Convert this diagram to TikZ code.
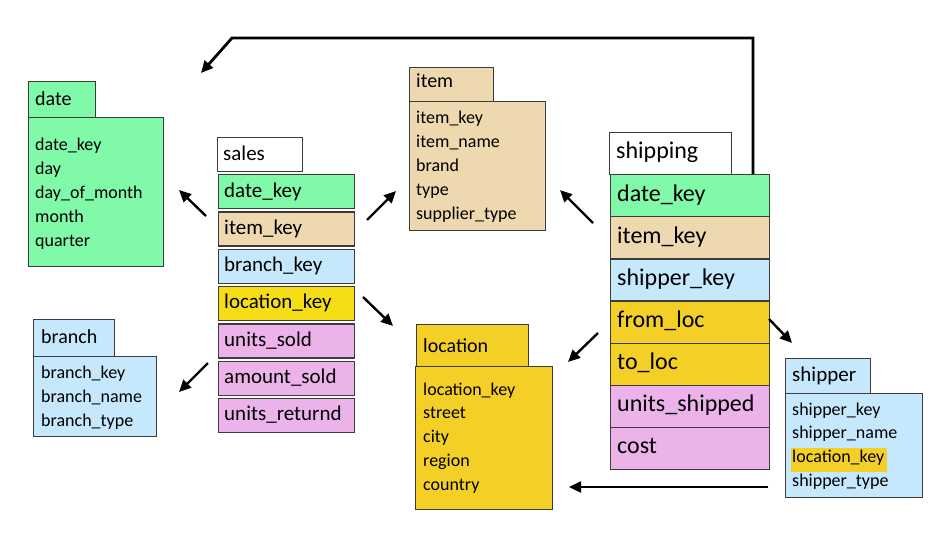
\documentclass[tikz,border=0pt]{standalone}
\usepackage{fontspec}
\setmainfont{Carlito}
\usetikzlibrary{arrows.meta}
\definecolor{cgreen}{RGB}{128,249,169}
\definecolor{ctan}{RGB}{238,216,175}
\definecolor{cblue}{RGB}{198,232,252}
\definecolor{cyel}{RGB}{244,208,38}
\definecolor{cyelb}{RGB}{245,222,22}
\definecolor{cpink}{RGB}{236,178,234}
\definecolor{cbord}{RGB}{60,60,60}
\begin{document}
\begin{tikzpicture}[x=1pt,y=-1pt,
  tbox/.style={draw=cbord, line width=1.3pt, inner sep=0pt, anchor=north west},
  fld/.style={anchor=base west, inner sep=0pt, font=\fontsize{18}{20}\selectfont},
  ttl/.style={anchor=base west, inner sep=0pt, font=\fontsize{20}{22}\selectfont},
  fldm/.style={anchor=base west, inner sep=0pt, font=\fontsize{21}{24}\selectfont},
  fldl/.style={anchor=base west, inner sep=0pt, font=\fontsize{24}{28}\selectfont},
  arr/.style={line width=2.4pt, -{Triangle[length=12pt,width=11pt]}},
  elbow/.style={line width=2.8pt, -{Triangle[length=12pt,width=11pt]}}
]
\path[use as bounding box] (0,0) rectangle (933,532);

% ---------- date ----------
\node[tbox, fill=cgreen, minimum width=67, minimum height=36] (dateH) at (28,81) {};
\node[tbox, fill=cgreen, minimum width=135, minimum height=149] (dateB) at (28,117) {};
\node[ttl] (dateN) at (35,106) {date};
\foreach \t [count=\i] in {date\_key,day,day\_of\_month,month,quarter}
  \node[fld] (date\i) at ({35},{150+24*(\i-1)}) {\t};

% ---------- sales ----------
\node[tbox, fill=white, minimum width=85, minimum height=34] (salesH) at (217,137) {};
\node[fldm] (salesN) at (223,160) {sales};
\foreach \t/\c [count=\i] in {date\_key/cgreen, item\_key/ctan, branch\_key/cblue, location\_key/cyelb, units\_sold/cpink, amount\_sold/cpink, units\_returnd/cpink}{
  \node[tbox, fill=\c, minimum width=136, minimum height=34] (sales\i) at ({218},{174+37.3*(\i-1)}) {};
  \node[fldm] (salesT\i) at ({224},{197+37.3*(\i-1)}) {\t};
}

% ---------- item ----------
\node[tbox, fill=ctan, minimum width=84, minimum height=34] (itemH) at (409,67) {};
\node[tbox, fill=ctan, minimum width=136, minimum height=129] (itemB) at (409,101) {};
\node[ttl] (itemN) at (416,88) {item};
\foreach \t [count=\i] in {item\_key,item\_name,brand,type,supplier\_type}
  \node[fld] (item\i) at ({416},{124+23.8*(\i-1)}) {\t};

% ---------- shipping ----------
\node[tbox, fill=white, minimum width=122, minimum height=42] (shipH) at (609,132) {};
\node[fldl] (shipN) at (616,158) {shipping};
\foreach \t/\c [count=\i] in {date\_key/cgreen, item\_key/ctan, shipper\_key/cblue, from\_loc/cyel, to\_loc/cyel, units\_shipped/cpink, cost/cpink}{
  \node[tbox, fill=\c, minimum width=159, minimum height=42.14] (ship\i) at ({610},{174+42.14*(\i-1)}) {};
  \node[fldl] (shipT\i) at ({617},{201+42.14*(\i-1)}) {\t};
}

% ---------- branch ----------
\node[tbox, fill=cblue, minimum width=81, minimum height=37] (branchH) at (33,319) {};
\node[tbox, fill=cblue, minimum width=123, minimum height=80] (branchB) at (33,356) {};
\node[ttl] (branchN) at (41,343) {branch};
\foreach \t [count=\i] in {branch\_key,branch\_name,branch\_type}
  \node[fld] (branch\i) at ({41},{378+24*(\i-1)}) {\t};

% ---------- location ----------
\node[tbox, fill=cyel, minimum width=112, minimum height=42] (locH) at (416,324) {};
\node[tbox, fill=cyel, minimum width=137, minimum height=143] (locB) at (415,366) {};
\node[ttl] (locN) at (423,352) {location};
\foreach \t [count=\i] in {location\_key,street,city,region,country}
  \node[fld] (loc\i) at ({423},{395+23.9*(\i-1)}) {\t};

% ---------- shipper ----------
\node[tbox, fill=cblue, minimum width=85, minimum height=35] (shprH) at (785,358) {};
\node[tbox, fill=cblue, minimum width=137, minimum height=104] (shprB) at (785,393) {};
\node[ttl, font=\fontsize{21}{24}\selectfont] (shprN) at (792,381) {shipper};
\fill[cyel] (791,448) rectangle (887,472);
\foreach \t [count=\i] in {shipper\_key,shipper\_name,location\_key,shipper\_type}
  \node[fld] (shpr\i) at ({792},{415+23.7*(\i-1)}) {\t};

% ---------- connectors ----------
\coordinate (a1s) at (206,216); \coordinate (a1e) at (179,190);
\coordinate (a2s) at (367,220); \coordinate (a2e) at (396,191);
\coordinate (a3s) at (363,297); \coordinate (a3e) at (393,326);
\coordinate (a4s) at (208,363); \coordinate (a4e) at (179,392);
\coordinate (a5s) at (593,223); \coordinate (a5e) at (560,190);
\coordinate (a6s) at (598,333); \coordinate (a6e) at (568,362);
\coordinate (a7s) at (769,319); \coordinate (a7e) at (792,343);
\coordinate (a8s) at (768,487); \coordinate (a8e) at (569,487);
\coordinate (e0) at (753,174); \coordinate (e1) at (753,38);
\coordinate (e2) at (232,38); \coordinate (e3) at (201,73);

\draw[arr] (a1s) -- (a1e);
\draw[arr] (a2s) -- (a2e);
\draw[arr] (a3s) -- (a3e);
\draw[arr] (a4s) -- (a4e);
\draw[arr] (a5s) -- (a5e);
\draw[arr] (a6s) -- (a6e);
\draw[arr] (a7s) -- (a7e);
\draw[arr] (a8s) -- (a8e);
\draw[elbow] (e0) -- (e1) -- (e2) -- (e3);
\end{tikzpicture}
\end{document}
